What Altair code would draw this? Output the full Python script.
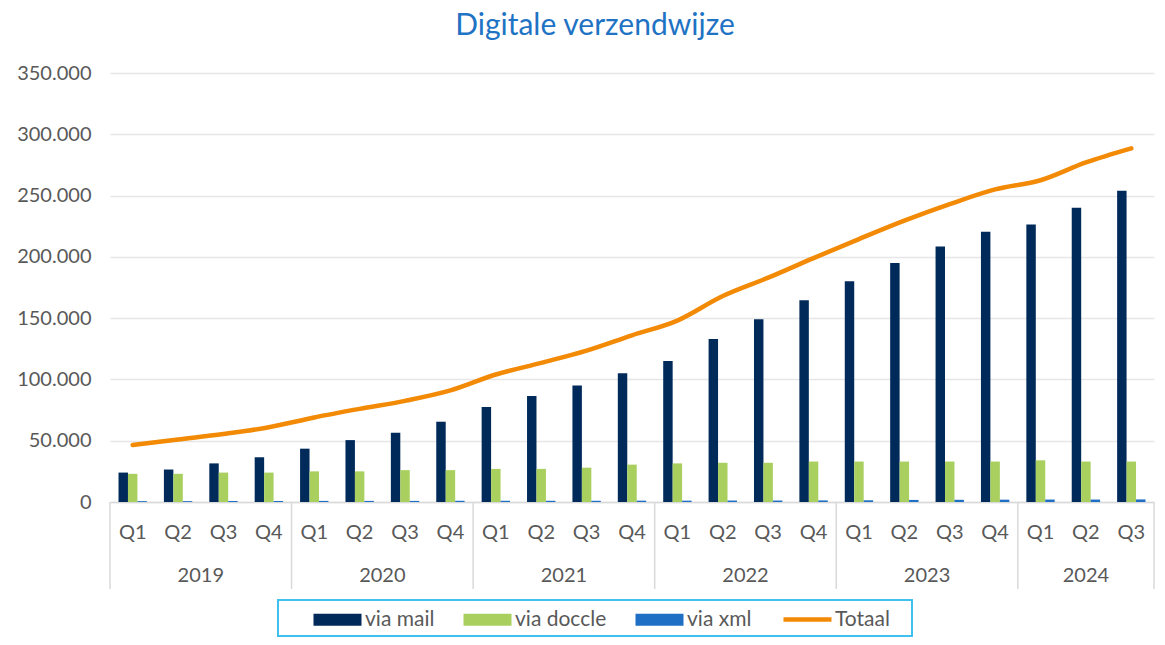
import altair as alt
import pandas as pd

# ---------------- data ----------------
years = ["2019", "2020", "2021", "2022", "2023", "2024"]
quarters_per_year = [4, 4, 4, 4, 4, 3]
quarter_names = ["Q1", "Q2", "Q3", "Q4"]

via_mail = [24000, 26500, 31500, 36500, 43500, 50500, 56500, 65500,
            77500, 86500, 95000, 105000, 115000, 133000, 149000, 164500,
            180000, 195000, 208500, 220500, 226500, 240000, 254000]
via_doccle = [23000, 23000, 24000, 24000, 25000, 25000, 26000, 26000,
              27000, 27000, 28000, 30500, 31500, 32000, 32000, 33000,
              33000, 33000, 33000, 33000, 34000, 33000, 33000]
via_xml = [700, 700, 800, 800, 900, 900, 900, 1000,
           1000, 1000, 1000, 1100, 1100, 1200, 1200, 1300,
           1400, 1700, 1800, 1900, 2000, 2000, 2100]
totaal = [46500, 51000, 55500, 61000, 69000, 76000, 82500, 91000,
          104000, 113500, 123500, 136000, 148000, 168000, 183000, 199000,
          214500, 229500, 243000, 255000, 262500, 277000, 288500]

bar_series = ["via mail", "via doccle", "via xml"]
bar_colors = ["#002A5A", "#A9D05F", "#1F6FC5"]
line_series = ["Totaal"]
line_colors = ["#F28A05"]

# ---------------- tables ----------------
quarter_labels = []
for y, n in zip(years, quarters_per_year):
    for q in range(n):
        quarter_labels.append(quarter_names[q])
n_cat = len(quarter_labels)
idx = list(range(n_cat))

bar_w = 0.2083
rows = []
for k, (name, vals) in enumerate(zip(bar_series, [via_mail, via_doccle, via_xml])):
    for i, v in enumerate(vals):
        x0 = i - 1.5 * bar_w + k * bar_w
        rows.append({"series": name, "x0": x0, "x1": x0 + bar_w, "value": v})
bars_df = pd.DataFrame(rows)

line_df = pd.DataFrame({"idx": idx, "value": totaal, "series": "Totaal"})
q_df = pd.DataFrame({"idx": idx, "label": quarter_labels})

starts = []
s = 0
for n in quarters_per_year:
    starts.append(s)
    s += n
year_df = pd.DataFrame({"year": years,
                        "mid": [st + (n - 1) / 2 for st, n in zip(starts, quarters_per_year)]})
sep_df = pd.DataFrame({"b": [st - 0.5 for st in starts] + [n_cat - 0.5]})

# ---------------- chart ----------------
FONT = "Lato"
GREY = "#595959"
W, H = 1044, 429
LEFT = 102

xscale = alt.Scale(domain=[-0.5, n_cat - 0.5], nice=False, zero=False)
yscale = alt.Scale(domain=[0, 350000], nice=False)

legend_common = dict(
    title=None, orient="none", direction="horizontal",
    labelFont=FONT, labelFontSize=21, labelColor=GREY, labelOffset=35,
    symbolSize=144, columnPadding=24, padding=0, legendY=536,
)

fill = alt.Fill(
    "series:N",
    scale=alt.Scale(domain=bar_series, range=bar_colors),
    legend=alt.Legend(symbolType="M-1,-1H7V1H-1Z", symbolStrokeWidth=0,
                      symbolOpacity=1, legendX=199, **legend_common),
)
stroke = alt.Stroke(
    "series:N",
    scale=alt.Scale(domain=line_series, range=line_colors),
    legend=alt.Legend(symbolType="M-1,0H7", symbolStrokeWidth=4.5,
                      symbolFillColor="transparent", legendX=669, **legend_common),
)

xaxis = alt.Axis(labels=False, ticks=False, grid=False, domain=True,
                 domainColor="#D9D9D9", domainWidth=1.5, title=None)
yaxis = alt.Axis(values=list(range(0, 350001, 50000)),
                 labelExpr="datum.value == 0 ? '0' : format(datum.value / 1000, 'd') + '.000'",
                 grid=True, gridColor="#E6E6E6", gridWidth=1.5,
                 domain=False, ticks=False, labelPadding=19,
                 labelFont=FONT, labelFontSize=20, labelColor=GREY, title=None)

bars = alt.Chart(bars_df).mark_bar().encode(
    x=alt.X("x0:Q", scale=xscale, axis=xaxis),
    x2="x1:Q",
    y=alt.Y("value:Q", scale=yscale, axis=yaxis),
    y2=alt.datum(0),
    fill=fill,
)

line = alt.Chart(line_df).mark_line(strokeWidth=4.5, strokeCap="round",
                                    strokeJoin="round", interpolate="monotone").encode(
    x=alt.X("idx:Q", scale=xscale),
    y=alt.Y("value:Q", scale=yscale),
    stroke=stroke,
)

qtext = alt.Chart(q_df).mark_text(font=FONT, fontSize=20, color=GREY, baseline="middle").encode(
    x=alt.X("idx:Q", scale=xscale),
    y=alt.value(H + 31),
    text="label:N",
)

ytext = alt.Chart(year_df).mark_text(font=FONT, fontSize=20, color=GREY, baseline="middle").encode(
    x=alt.X("mid:Q", scale=xscale),
    y=alt.value(H + 74),
    text="year:N",
)

seps = alt.Chart(sep_df).mark_rule(color="#D9D9D9", strokeWidth=1.5).encode(
    x=alt.X("b:Q", scale=xscale),
    y=alt.value(H),
    y2=alt.value(H + 87),
)

legend_box = alt.Chart(pd.DataFrame({"k": [0]})).mark_rect(
    fill="transparent", stroke="#3EC1EE", strokeWidth=2).encode(
    x=alt.value(168), x2=alt.value(802),
    y=alt.value(H + 98), y2=alt.value(H + 134),
)

chart = alt.layer(bars, line, seps, qtext, ytext, legend_box).properties(
    width=W, height=H,
    title=alt.TitleParams("Digitale verzendwijze", font=FONT, fontSize=30,
                          fontWeight="normal", color="#1F73C4",
                          anchor="middle", frame="group", dx=-37, offset=22),
    autosize=alt.AutoSizeParams(type="none"),
    padding={"left": LEFT, "top": 65, "right": 2, "bottom": 135},
).resolve_scale(fill="independent", stroke="independent").configure_view(stroke=None)

chart.save("out.html", embed_options={"renderer": "svg", "actions": False})
